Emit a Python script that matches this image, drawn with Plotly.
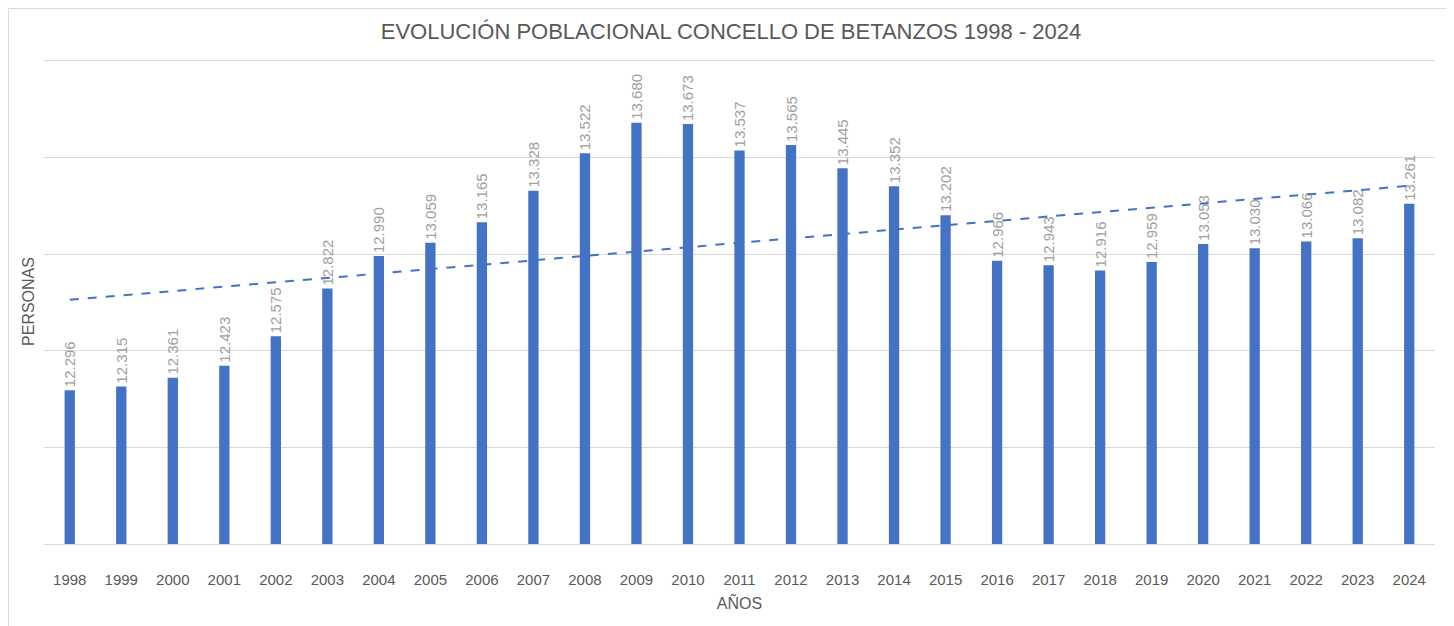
import numpy as np
import plotly.graph_objects as go

years = [str(y) for y in range(1998, 2025)]
population = [12296, 12315, 12361, 12423, 12575, 12822, 12990, 13059, 13165, 13328,
              13522, 13680, 13673, 13537, 13565, 13445, 13352, 13202, 12966, 12943,
              12916, 12959, 13053, 13030, 13066, 13082, 13261]

title_text = "EVOLUCIÓN POBLACIONAL CONCELLO DE BETANZOS 1998 - 2024"
x_title = "AÑOS"
y_title = "PERSONAS"

idx = np.arange(len(population))
slope, intercept = np.polyfit(idx, population, 1)
trend = slope * idx + intercept

bar_color = "#4472C4"
font_family = "Liberation Sans, Arial, sans-serif"

W, H = 1446, 618
L, R, T, B = 36, 19, 51, 82
PW, PH = W - L - R, H - T - B

fig = go.Figure()
fig.add_trace(go.Bar(
    x=years, y=population,
    marker=dict(color=bar_color, line=dict(width=0)),
    texttemplate="%{y:,}",
    textposition="outside",
    textangle=-90,
    constraintext="none",
    cliponaxis=False,
    textfont=dict(color="#a0a0a0", size=15, family=font_family),
    showlegend=False,
    hoverinfo="x+y",
))
fig.add_trace(go.Scatter(
    x=years, y=trend, mode="lines",
    line=dict(color=bar_color, width=2, dash="dash"),
    showlegend=False, hoverinfo="skip",
))

fig.update_layout(
    width=W, height=H,
    margin=dict(l=L, r=R, t=T, b=B),
    paper_bgcolor="white", plot_bgcolor="white",
    separators=",.",
    bargap=0.8,
    font=dict(family=font_family, color="#595959"),
    title=dict(text=title_text, x=0.5, xanchor="center", y=1 - 23 / H, yanchor="middle",
               font=dict(size=22, color="#595959", family=font_family)),
    xaxis=dict(
        type="category", showgrid=False, showline=True, linecolor="#d9d9d9", linewidth=1,
        ticks="", ticklabelstandoff=22, tickfont=dict(size=15, color="#595959"),
        title=dict(text=x_title, font=dict(size=16, color="#595959"), standoff=10),
    ),
    yaxis=dict(
        range=[11500, 14010], dtick=500, showgrid=True, gridcolor="#d9d9d9", gridwidth=1,
        showticklabels=False, zeroline=False, showline=False,
        title=dict(text=y_title, font=dict(size=16, color="#595959"), standoff=4),
    ),
    shapes=[dict(type="rect", xref="paper", yref="paper",
                 x0=-(L - 0.5) / PW, x1=(1440 - L) / PW,
                 y0=-(B + 10) / PH, y1=(PH + T - 0.5) / PH,
                 line=dict(color="#d9d9d9", width=1), layer="below")],
)

fig.write_html("out.html")
